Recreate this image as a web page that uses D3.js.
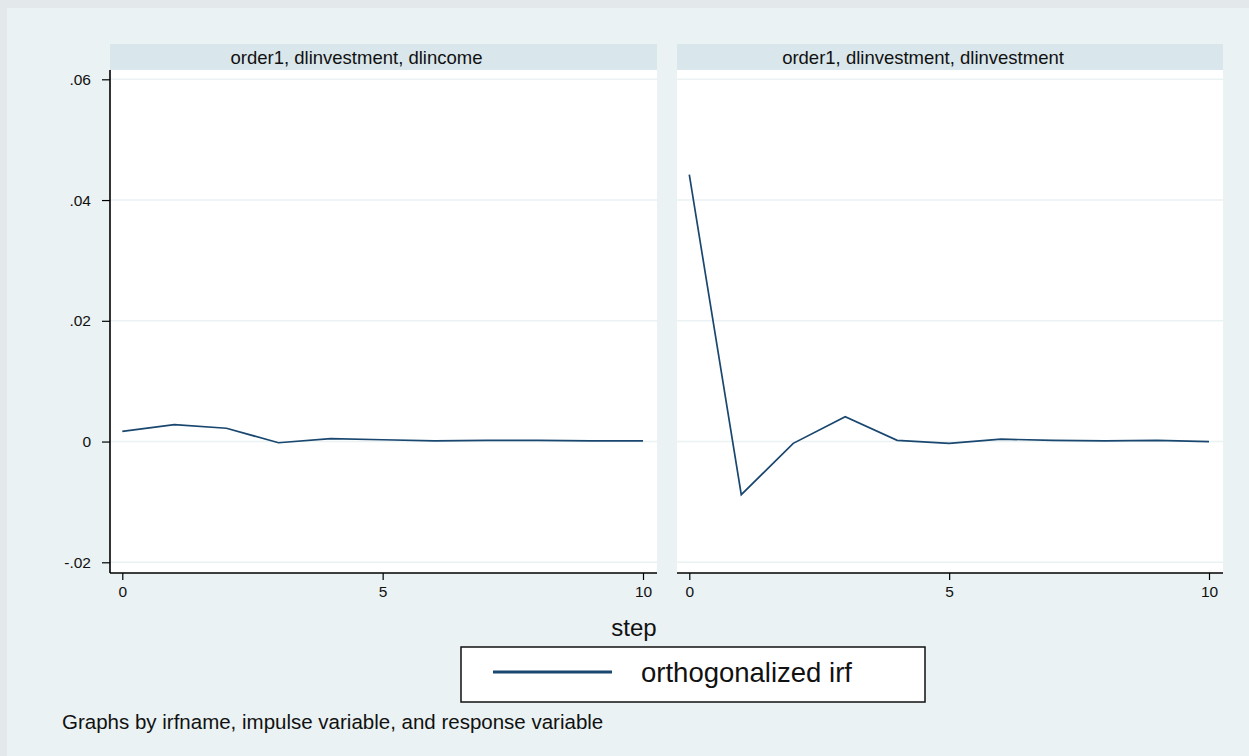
<!DOCTYPE html>
<html>
<head>
<meta charset="utf-8">
<script src="https://cdn.jsdelivr.net/npm/d3@7"></script>
<style>
  body { margin: 0; background: #eaf2f3; }
  svg { display: block; font-family: Arial, "Liberation Sans", sans-serif; }
</style>
</head>
<body>
<div id="chart"></div>
<script>
// data
var steps = [0, 1, 2, 3, 4, 5, 6, 7, 8, 9, 10];
var panelTitles = ["order1, dlinvestment, dlincome", "order1, dlinvestment, dlinvestment"];
var irfIncome = [0.0017, 0.0028, 0.0022, -0.0002, 0.0005, 0.0003, 0.0001, 0.0002, 0.0002, 0.0001, 0.0001];
var irfInvestment = [0.0442, -0.0088, -0.0003, 0.0041, 0.0002, -0.0003, 0.0004, 0.0002, 0.0001, 0.0002, 0.0];
var yTicks = [-0.02, 0, 0.02, 0.04, 0.06];
var xTicks = [0, 5, 10];
var legendLabel = "orthogonalized irf";
var xTitle = "step";
var note = "Graphs by irfname, impulse variable, and response variable";

var W = 1249, H = 756;
var lineColor = "#1a476f";

var svg = d3.select("#chart").append("svg")
    .attr("width", W)
    .attr("height", H);

// outer frame
svg.append("rect").attr("x", 0).attr("y", 0).attr("width", W).attr("height", H).attr("fill", "#e3e8ea");
svg.append("rect").attr("x", 7).attr("y", 8).attr("width", W - 7).attr("height", H - 8).attr("fill", "#eaf2f3");

var plotTop = 70, plotBottom = 573, headTop = 44;
var panels = [
    { x0: 110, x1: 657, data: irfIncome, title: panelTitles[0], yaxis: true },
    { x0: 677, x1: 1223, data: irfInvestment, title: panelTitles[1], yaxis: false }
];

// y scale shared by both panels
var yScale = d3.scaleLinear()
    .domain([-0.02, 0.06])
    .range([562.3, 79.3]);

function fmt(v) {
    if (v === 0) return "0";
    return v.toFixed(2).replace("0.", ".");
}

panels.forEach(function (p) {
    var xScale = d3.scaleLinear()
        .domain([0, 10])
        .range([p.x0 + 12.3, p.x1 - 14]);

    // header band
    svg.append("rect")
        .attr("x", p.x0).attr("y", headTop)
        .attr("width", p.x1 - p.x0).attr("height", plotTop - headTop)
        .attr("fill", "#d9e6eb");
    svg.append("text")
        .attr("x", (p.x0 + p.x1) / 2 - 27).attr("y", 64)
        .attr("text-anchor", "middle")
        .attr("font-size", 18.5)
        .attr("fill", "#111")
        .text(p.title);

    // plot region
    svg.append("rect")
        .attr("x", p.x0).attr("y", plotTop)
        .attr("width", p.x1 - p.x0).attr("height", plotBottom - plotTop)
        .attr("fill", "#ffffff");

    // gridlines
    svg.append("g").selectAll("line")
        .data(yTicks)
        .enter().append("line")
        .attr("x1", p.x0).attr("x2", p.x1)
        .attr("y1", function (d) { return yScale(d); })
        .attr("y2", function (d) { return yScale(d); })
        .attr("stroke", "#eaf2f3")
        .attr("stroke-width", 1.6);

    // the irf line
    var line = d3.line()
        .x(function (d, i) { return xScale(steps[i]); })
        .y(function (d) { return yScale(d); });

    svg.append("path")
        .datum(p.data)
        .attr("d", line)
        .attr("fill", "none")
        .attr("stroke", lineColor)
        .attr("stroke-width", 1.7);

    // x axis
    var xAxis = svg.append("g")
        .attr("transform", "translate(0," + plotBottom + ")")
        .call(d3.axisBottom(xScale).tickValues(xTicks).tickSize(7).tickPadding(6).tickFormat(d3.format("d")));
    xAxis.select(".domain").attr("d", "M" + p.x0 + ",0H" + p.x1).attr("stroke", "#000").attr("stroke-width", 1.6);
    xAxis.selectAll(".tick line").attr("stroke", "#000").attr("stroke-width", 1.2);
    xAxis.selectAll(".tick text").attr("font-size", 15.5).attr("fill", "#111").attr("font-family", "Arial, 'Liberation Sans', sans-serif");

    if (p.yaxis) {
        var yAxis = svg.append("g")
            .attr("transform", "translate(" + p.x0 + ",0)")
            .call(d3.axisLeft(yScale).tickValues(yTicks).tickSize(8).tickPadding(11).tickFormat(fmt));
        yAxis.select(".domain").attr("d", "M0," + plotTop + "V" + plotBottom).attr("stroke", "#000").attr("stroke-width", 1.6);
        yAxis.selectAll(".tick line").attr("stroke", "#000").attr("stroke-width", 1.2);
        yAxis.selectAll(".tick text").attr("font-size", 15.5).attr("fill", "#111").attr("font-family", "Arial, 'Liberation Sans', sans-serif");
    }
});

// x axis title
svg.append("text")
    .attr("x", 634).attr("y", 636)
    .attr("text-anchor", "middle")
    .attr("font-size", 24)
    .attr("fill", "#111")
    .text(xTitle);

// legend
svg.append("rect")
    .attr("x", 461).attr("y", 647)
    .attr("width", 464).attr("height", 55)
    .attr("fill", "#ffffff")
    .attr("stroke", "#111")
    .attr("stroke-width", 1.5);
svg.append("line")
    .attr("x1", 493).attr("x2", 612)
    .attr("y1", 672).attr("y2", 672)
    .attr("stroke", lineColor)
    .attr("stroke-width", 3);
svg.append("text")
    .attr("x", 641).attr("y", 682)
    .attr("font-size", 27.5)
    .attr("fill", "#111")
    .text(legendLabel);

// note
svg.append("text")
    .attr("x", 62).attr("y", 729)
    .attr("font-size", 20.5)
    .attr("fill", "#111")
    .text(note);
</script>
</body>
</html>
